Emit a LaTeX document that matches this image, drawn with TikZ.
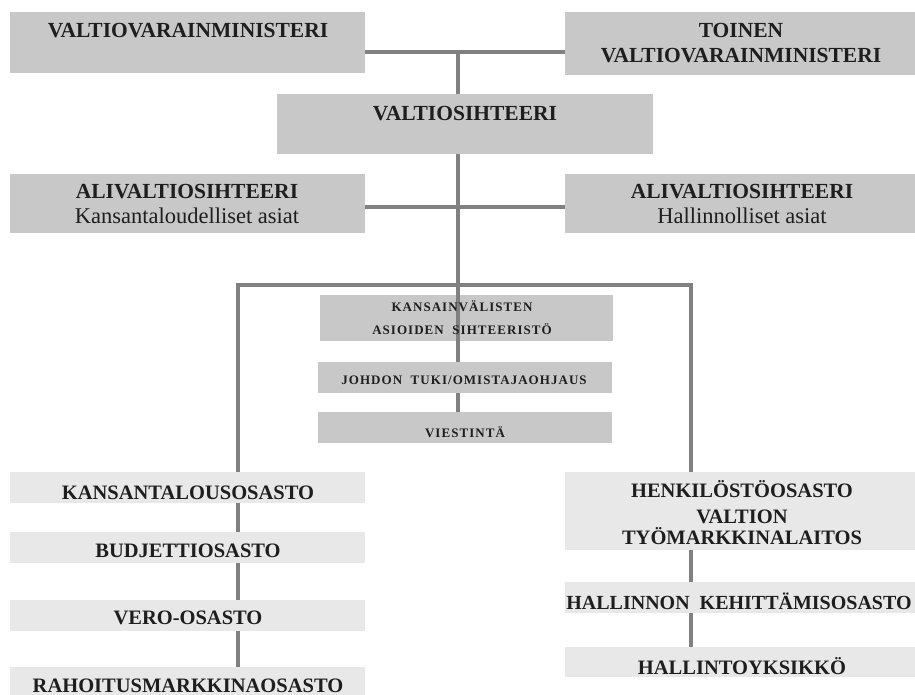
\documentclass[tikz,border=0pt]{standalone}
\usepackage{fontspec}
\setmainfont{Liberation Serif}
\definecolor{boxdark}{RGB}{200,200,200}
\definecolor{boxlight}{RGB}{232,232,232}
\definecolor{linegray}{RGB}{128,128,128}
\definecolor{ink}{RGB}{30,30,30}
\begin{document}
\begin{tikzpicture}[x=1pt,y=-1pt,
  box/.style={draw=none, inner sep=0pt, outer sep=0pt},
  darkbox/.style={box, fill=boxdark},
  lightbox/.style={box, fill=boxlight},
  conn/.style={draw=linegray, line width=4pt},
  tophead/.style={font=\fontsize{21.5}{24}\selectfont\bfseries, text=ink, inner sep=0pt, anchor=base},
  head/.style={font=\fontsize{20.5}{23}\selectfont\bfseries, text=ink, inner sep=0pt, anchor=base},
  sub/.style={font=\fontsize{22.5}{25}\selectfont, text=ink, inner sep=0pt, anchor=base},
  small/.style={font=\fontsize{13}{15}\selectfont\bfseries\addfontfeatures{LetterSpace=8}, text=ink, inner sep=0pt, anchor=base},
]
\useasboundingbox (0,0) rectangle (915,695);
\fill[white] (0,0) rectangle (915,695);

% ministers and secretaries
\node[darkbox, minimum width=355pt, minimum height=61pt] (vm) at (187.5,42.5) {};
\node[darkbox, minimum width=350pt, minimum height=63pt] (tv) at (740,43.5) {};
\node[darkbox, minimum width=376pt, minimum height=60pt] (vs) at (465,124) {};
\node[darkbox, minimum width=355pt, minimum height=59pt] (al) at (187.5,203.5) {};
\node[darkbox, minimum width=350pt, minimum height=59pt] (ah) at (740,203.5) {};

% staff units
\node[darkbox, minimum width=293pt, minimum height=46pt] (kv) at (466.5,318) {};

% connectors
\coordinate (top) at (458,52);
\coordinate (mid) at (458,207);
\coordinate (lb) at (238,285);
\coordinate (rb) at (691,285);
\draw[conn] (vm.east |- top) -- (tv.west |- top);
\draw[conn] (al.east |- mid) -- (ah.west |- mid);
\draw[conn] (top) -- (top |- vs.north);
\draw[conn] (top |- vs.south) -- (top |- 0,412);
\draw[conn] (lb |- 0,472) -- (lb) -- (rb) -- (rb |- 0,472);

\node[darkbox, minimum width=294pt, minimum height=31pt] (jt) at (465,377.5) {};
\node[darkbox, minimum width=294pt, minimum height=31pt] (vi) at (465,427.5) {};

% departments
\node[lightbox, minimum width=355pt, minimum height=31pt] (ko) at (187.5,487.5) {};
\node[lightbox, minimum width=355pt, minimum height=31pt] (bo) at (187.5,547.5) {};
\node[lightbox, minimum width=355pt, minimum height=31pt] (vo) at (187.5,615.5) {};
\node[lightbox, minimum width=355pt, minimum height=31pt] (ro) at (187.5,682.5) {};
\node[lightbox, minimum width=350pt, minimum height=78pt] (ho) at (740,511) {};
\node[lightbox, minimum width=350pt, minimum height=31pt] (hk) at (740,597.5) {};
\node[lightbox, minimum width=350pt, minimum height=30pt] (hy) at (740,662) {};

\draw[conn] (ko.south -| lb) -- (bo.north -| lb);
\draw[conn] (bo.south -| lb) -- (vo.north -| lb);
\draw[conn] (vo.south -| lb) -- (ro.north -| lb);
\draw[conn] (ho.south -| rb) -- (hk.north -| rb);
\draw[conn] (hk.south -| rb) -- (hy.north -| rb);

% texts
\node[tophead] (tvm) at (188,38) {VALTIOVARAINMINISTERI};
\node[tophead] (ttv1) at (741,38) {TOINEN};
\node[tophead] (ttv2) at (741,63) {VALTIOVARAINMINISTERI};
\node[tophead] (tvs) at (465,121) {VALTIOSIHTEERI};
\node[tophead] (tal1) at (187,198) {ALIVALTIOSIHTEERI};
\node[sub] (tal2) at (187,223) {Kansantaloudelliset asiat};
\node[tophead] (tah1) at (742,198) {ALIVALTIOSIHTEERI};
\node[sub] (tah2) at (742,223) {Hallinnolliset asiat};

\node[small] (tkv1) at (462,311) {KANSAINVÄLISTEN};
\node[small] (tkv2) at (462,334) {ASIOIDEN\ \ SIHTEERISTÖ};
\node[small] (tjt) at (464,384) {JOHDON\ \ TUKI/OMISTAJAOHJAUS};
\node[small] (tvi) at (465,437) {VIESTINTÄ};

\node[head] (tko) at (188,499) {KANSANTALOUSOSASTO};
\node[head] (tbo) at (188,557) {BUDJETTIOSASTO};
\node[head] (tvo) at (188,624) {VERO-OSASTO};
\node[head] (tro) at (188,692) {RAHOITUSMARKKINAOSASTO};
\node[head] (tho1) at (742,497) {HENKILÖSTÖOSASTO};
\node[head] (tho2) at (742,523) {VALTION};
\node[head] (tho3) at (742,544) {TYÖMARKKINALAITOS};
\node[head, font=\fontsize{20}{23}\selectfont\bfseries] (thk) at (739,609) {HALLINNON\ \ KEHITTÄMISOSASTO};
\node[head] (thy) at (742,674) {HALLINTOYKSIKKÖ};
\end{tikzpicture}
\end{document}
